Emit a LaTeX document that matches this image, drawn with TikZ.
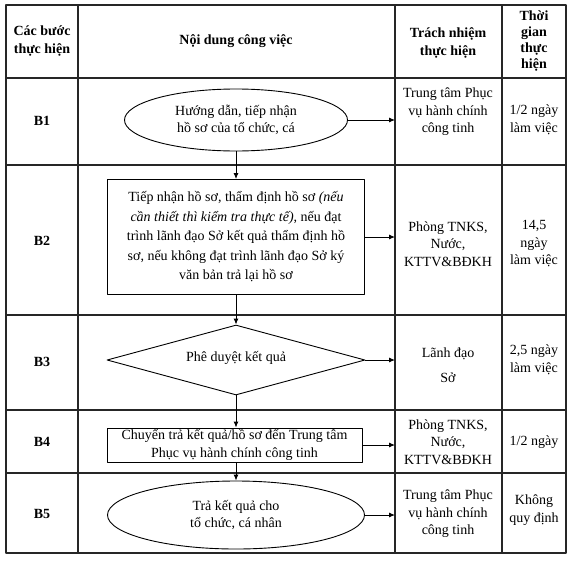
\documentclass[tikz,border=0pt]{standalone}
\usepackage{fontspec}
\setmainfont{Liberation Serif}
\usetikzlibrary{shapes.geometric,arrows.meta}

\begin{document}
\begin{tikzpicture}[x=1pt, y=-1pt, line join=round,
    font=\fontsize{14}{17.5}\selectfont,
    grid/.style={line width=1.3pt, draw=black!85},
    flowline/.style={line width=0.9pt, -{Latex[length=6pt,width=5pt]}},
    cell/.style={align=center, inner sep=0pt},
    head/.style={cell, font=\fontsize{14}{17.5}\selectfont\bfseries},
    oval/.style={draw, line width=0.9pt, ellipse, align=center, inner sep=0pt},
    box/.style={draw, line width=0.9pt, rectangle, align=center, inner sep=0pt},
    choice/.style={draw, line width=0.9pt, diamond, align=center, inner sep=0pt}]

    \useasboundingbox (0,0) rectangle (572,560);

    % Griglia della tabella (bordo, righe, colonne)
    \draw[grid] (6,5) rectangle (566,553);
    \foreach \y in {78,165,315,410,473} \draw[grid] (6,\y) -- (566,\y);
    \foreach \x in {78,395,502} \draw[grid] (\x,5) -- (\x,553);
    \coordinate (resp) at (395,0);

    % Intestazione
    \node[head] (h1) at (42,41) {Các bước\\thực hiện};
    \node[head] (h2) at (236,41) {Nội dung công việc};
    \node[head] (h3) at (448,43) {Trách nhiệm\\thực hiện};
    \node[head, font=\fontsize{14}{16}\selectfont\bfseries] (h4) at (534,41) {Thời\\gian\\thực\\hiện};

    % Colonna dei passi
    \node[head] (s1) at (42,121) {B1};
    \node[head] (s2) at (42,241) {B2};
    \node[head] (s3) at (42,362) {B3};
    \node[head] (s4) at (42,442) {B4};
    \node[head] (s5) at (42,514) {B5};

    % Forme del diagramma di flusso
    \node[oval, minimum width=223pt, minimum height=62pt] (b1) at (236,120)
        {Hướng dẫn, tiếp nhận\\hồ sơ của tổ chức, cá};
    \node[box, minimum width=257pt, minimum height=115pt,
          font=\fontsize{14}{19.5}\selectfont] (b2) at (236,237)
        {Tiếp nhận hồ sơ, thẩm định hồ sơ \textit{(nếu}\\
         \textit{cần thiết thì kiểm tra thực tế)}, nếu đạt\\
         trình lãnh đạo Sở kết quả thẩm định hồ\\
         sơ, nếu không đạt trình lãnh đạo Sở ký\\
         văn bản trả lại hồ sơ};
    \node[choice, minimum width=258pt, minimum height=70pt, aspect=3.7] (b3) at (236,360)
        {\raisebox{8pt}{Phê duyệt kết quả}};
    \node[box, minimum width=255pt, minimum height=34pt] (b4) at (234.5,445)
        {Chuyển trả kết quả/hồ sơ đến Trung tâm\\Phục vụ hành chính công tinh};
    \node[oval, minimum width=257pt, minimum height=68pt] (b5) at (236,515)
        {Trả kết quả cho\\tổ chức, cá nhân};

    % Collegamenti verticali
    \draw[flowline] (b1.south -| b2.north) -- (b2.north);
    \draw[flowline] (b2.south) -- (b3.north);
    \draw[flowline] (b3.south) -- (b4.north -| b3.south);
    \draw[flowline] (b4.south -| b3.south) -- (b5.north);

    % Frecce verso la responsabilita'
    \draw[flowline] (b1.east) -- (b1.east -| resp);
    \draw[flowline] (b2.east) -- (b2.east -| resp);
    \draw[flowline] (b3.east) -- (b3.east -| resp);
    \draw[flowline] (b4.east) -- (b4.east -| resp);
    \draw[flowline] (b5.east) -- (b5.east -| resp);

    % Responsabili
    \node[cell] (r1) at (448,112) {Trung tâm Phục\\vụ hành chính\\công tinh};
    \node[cell] (r2) at (448,244) {Phòng TNKS,\\Nước,\\KTTV\&BĐKH};
    \node[cell] (r3) at (448,365) {Lãnh đạo\\[7pt]Sở};
    \node[cell] (r4) at (448,442) {Phòng TNKS,\\Nước,\\KTTV\&BĐKH};
    \node[cell] (r5) at (448,514) {Trung tâm Phục\\vụ hành chính\\công tinh};

    % Tempi
    \node[cell] (t1) at (534,120) {1/2 ngày\\làm việc};
    \node[cell] (t2) at (534,244) {14,5\\ngày\\làm việc};
    \node[cell] (t3) at (534,360) {2,5 ngày\\làm việc};
    \node[cell] (t4) at (534,442) {1/2 ngày};
    \node[cell] (t5) at (534,510) {Không\\quy định};

\end{tikzpicture}
\end{document}
